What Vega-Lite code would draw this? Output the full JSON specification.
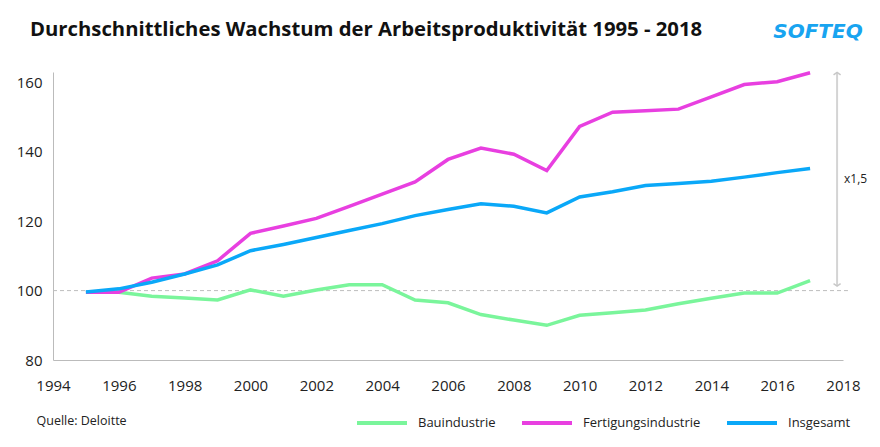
{
  "$schema": "https://vega.github.io/schema/vega-lite/v6.json",
  "width": 790,
  "height": 288,
  "autosize": {"type": "none"},
  "padding": {"left": 53, "top": 72, "right": 37, "bottom": 87},
  "background": "white",
  "config": {"view": {"stroke": null}, "font": "Open Sans"},
  "title": {
    "text": "Durchschnittliches Wachstum der Arbeitsproduktivität 1995 - 2018",
    "anchor": "start",
    "frame": "group",
    "dx": -23,
    "offset": -34,
    "baseline": "alphabetic",
    "fontSize": 20.3,
    "fontWeight": "bold",
    "font": "Open Sans",
    "color": "#111111"
  },
  "encoding": {
    "x": {
      "field": "Jahr",
      "type": "quantitative",
      "scale": {"domain": [1994, 2018], "nice": false, "zero": false},
      "axis": {
        "values": [1994, 1996, 1998, 2000, 2002, 2004, 2006, 2008, 2010, 2012, 2014, 2016, 2018],
        "format": "d",
        "ticks": false,
        "grid": false,
        "domainColor": "#bbbbbb",
        "labelFontSize": 15,
        "labelColor": "#222222",
        "labelPadding": 18,
        "labelFlush": false,
        "title": "Quelle: Deloitte",
        "titleAnchor": "start",
        "titleAlign": "left",
        "titleBaseline": "middle",
        "titleX": -17,
        "titleY": 60,
        "titleFontSize": 12.5,
        "titleFontWeight": "normal",
        "titleColor": "#222222"
      }
    },
    "y": {
      "field": "Wert",
      "type": "quantitative",
      "scale": {"domain": [80, 163], "nice": false, "zero": false},
      "axis": {
        "values": [80, 100, 120, 140, 160],
        "ticks": false,
        "grid": false,
        "domainColor": "#bbbbbb",
        "labelFontSize": 15,
        "labelColor": "#222222",
        "labelPadding": 11,
        "title": null
      }
    }
  },
  "layer": [
    {
      "data": {"values": [{"Jahr": 1994, "Jahr2": 2018.15, "Wert": 100}]},
      "mark": {"type": "rule", "strokeDash": [4, 3], "color": "#bdbdbd", "strokeWidth": 1},
      "encoding": {"x2": {"field": "Jahr2"}}
    },
    {
      "data": {
        "values": [
          {"Jahr": 1995, "Sektor": "Bauindustrie", "Wert": 99.5},
          {"Jahr": 1996, "Sektor": "Bauindustrie", "Wert": 99.5},
          {"Jahr": 1997, "Sektor": "Bauindustrie", "Wert": 98.4},
          {"Jahr": 1998, "Sektor": "Bauindustrie", "Wert": 97.9},
          {"Jahr": 1999, "Sektor": "Bauindustrie", "Wert": 97.3},
          {"Jahr": 2000, "Sektor": "Bauindustrie", "Wert": 100.2},
          {"Jahr": 2001, "Sektor": "Bauindustrie", "Wert": 98.4},
          {"Jahr": 2002, "Sektor": "Bauindustrie", "Wert": 100.2},
          {"Jahr": 2003, "Sektor": "Bauindustrie", "Wert": 101.7},
          {"Jahr": 2004, "Sektor": "Bauindustrie", "Wert": 101.7},
          {"Jahr": 2005, "Sektor": "Bauindustrie", "Wert": 97.3},
          {"Jahr": 2006, "Sektor": "Bauindustrie", "Wert": 96.5},
          {"Jahr": 2007, "Sektor": "Bauindustrie", "Wert": 93.1},
          {"Jahr": 2008, "Sektor": "Bauindustrie", "Wert": 91.5},
          {"Jahr": 2009, "Sektor": "Bauindustrie", "Wert": 90.0},
          {"Jahr": 2010, "Sektor": "Bauindustrie", "Wert": 92.9},
          {"Jahr": 2011, "Sektor": "Bauindustrie", "Wert": 93.6},
          {"Jahr": 2012, "Sektor": "Bauindustrie", "Wert": 94.4},
          {"Jahr": 2013, "Sektor": "Bauindustrie", "Wert": 96.2},
          {"Jahr": 2014, "Sektor": "Bauindustrie", "Wert": 97.8},
          {"Jahr": 2015, "Sektor": "Bauindustrie", "Wert": 99.3},
          {"Jahr": 2016, "Sektor": "Bauindustrie", "Wert": 99.3},
          {"Jahr": 2017, "Sektor": "Bauindustrie", "Wert": 102.9},
          {"Jahr": 1995, "Sektor": "Fertigungsindustrie", "Wert": 99.5},
          {"Jahr": 1996, "Sektor": "Fertigungsindustrie", "Wert": 99.5},
          {"Jahr": 1997, "Sektor": "Fertigungsindustrie", "Wert": 103.6},
          {"Jahr": 1998, "Sektor": "Fertigungsindustrie", "Wert": 104.8},
          {"Jahr": 1999, "Sektor": "Fertigungsindustrie", "Wert": 108.6},
          {"Jahr": 2000, "Sektor": "Fertigungsindustrie", "Wert": 116.5},
          {"Jahr": 2001, "Sektor": "Fertigungsindustrie", "Wert": 118.6},
          {"Jahr": 2002, "Sektor": "Fertigungsindustrie", "Wert": 120.8},
          {"Jahr": 2003, "Sektor": "Fertigungsindustrie", "Wert": 124.3},
          {"Jahr": 2004, "Sektor": "Fertigungsindustrie", "Wert": 127.8},
          {"Jahr": 2005, "Sektor": "Fertigungsindustrie", "Wert": 131.3},
          {"Jahr": 2006, "Sektor": "Fertigungsindustrie", "Wert": 137.8},
          {"Jahr": 2007, "Sektor": "Fertigungsindustrie", "Wert": 141.1},
          {"Jahr": 2008, "Sektor": "Fertigungsindustrie", "Wert": 139.3},
          {"Jahr": 2009, "Sektor": "Fertigungsindustrie", "Wert": 134.6},
          {"Jahr": 2010, "Sektor": "Fertigungsindustrie", "Wert": 147.3},
          {"Jahr": 2011, "Sektor": "Fertigungsindustrie", "Wert": 151.4},
          {"Jahr": 2012, "Sektor": "Fertigungsindustrie", "Wert": 151.8},
          {"Jahr": 2013, "Sektor": "Fertigungsindustrie", "Wert": 152.3},
          {"Jahr": 2014, "Sektor": "Fertigungsindustrie", "Wert": 155.8},
          {"Jahr": 2015, "Sektor": "Fertigungsindustrie", "Wert": 159.4},
          {"Jahr": 2016, "Sektor": "Fertigungsindustrie", "Wert": 160.2},
          {"Jahr": 2017, "Sektor": "Fertigungsindustrie", "Wert": 162.8},
          {"Jahr": 1995, "Sektor": "Insgesamt", "Wert": 99.6},
          {"Jahr": 1996, "Sektor": "Insgesamt", "Wert": 100.5},
          {"Jahr": 1997, "Sektor": "Insgesamt", "Wert": 102.4},
          {"Jahr": 1998, "Sektor": "Insgesamt", "Wert": 104.8},
          {"Jahr": 1999, "Sektor": "Insgesamt", "Wert": 107.4},
          {"Jahr": 2000, "Sektor": "Insgesamt", "Wert": 111.5},
          {"Jahr": 2001, "Sektor": "Insgesamt", "Wert": 113.3},
          {"Jahr": 2002, "Sektor": "Insgesamt", "Wert": 115.3},
          {"Jahr": 2003, "Sektor": "Insgesamt", "Wert": 117.3},
          {"Jahr": 2004, "Sektor": "Insgesamt", "Wert": 119.3},
          {"Jahr": 2005, "Sektor": "Insgesamt", "Wert": 121.6},
          {"Jahr": 2006, "Sektor": "Insgesamt", "Wert": 123.4},
          {"Jahr": 2007, "Sektor": "Insgesamt", "Wert": 125.0},
          {"Jahr": 2008, "Sektor": "Insgesamt", "Wert": 124.3},
          {"Jahr": 2009, "Sektor": "Insgesamt", "Wert": 122.4},
          {"Jahr": 2010, "Sektor": "Insgesamt", "Wert": 127.0},
          {"Jahr": 2011, "Sektor": "Insgesamt", "Wert": 128.5},
          {"Jahr": 2012, "Sektor": "Insgesamt", "Wert": 130.3},
          {"Jahr": 2013, "Sektor": "Insgesamt", "Wert": 130.9},
          {"Jahr": 2014, "Sektor": "Insgesamt", "Wert": 131.5},
          {"Jahr": 2015, "Sektor": "Insgesamt", "Wert": 132.7},
          {"Jahr": 2016, "Sektor": "Insgesamt", "Wert": 134.0},
          {"Jahr": 2017, "Sektor": "Insgesamt", "Wert": 135.2}
        ]
      },
      "mark": {"type": "line", "strokeWidth": 3.5, "strokeJoin": "miter", "strokeCap": "butt"},
      "encoding": {
        "color": {
          "field": "Sektor",
          "type": "nominal",
          "scale": {
            "domain": ["Bauindustrie", "Fertigungsindustrie", "Insgesamt"],
            "range": ["#7af59b", "#e83fe0", "#0aa8f8"]
          },
          "legend": {
            "orient": "none",
            "legendX": 302,
            "legendY": 324,
            "direction": "horizontal",
            "title": null,
            "symbolType": "stroke",
            "symbolSize": 2500,
            "symbolStrokeWidth": 4,
            "labelFontSize": 13,
            "labelFont": "Open Sans",
            "labelColor": "#222222",
            "labelOffset": 9,
            "columnPadding": 18
          }
        }
      }
    },
    {
      "data": {"values": [{"Jahr": 2017.82, "Wert": 101.3, "Wert2": 162.9}]},
      "mark": {"type": "rule", "color": "#d4d4d4", "strokeWidth": 2},
      "encoding": {"y2": {"field": "Wert2"}}
    },
    {
      "data": {"values": [{"Jahr": 2017.82, "Wert": 162.9}]},
      "mark": {"type": "point", "shape": "M-1,0.7L0,0L1,0.7", "size": 50, "filled": false, "stroke": "#c8c8c8", "strokeWidth": 1.5, "opacity": 1}
    },
    {
      "data": {"values": [{"Jahr": 2017.82, "Wert": 101.3}]},
      "mark": {"type": "point", "shape": "M-1,-0.7L0,0L1,-0.7", "size": 50, "filled": false, "stroke": "#c8c8c8", "strokeWidth": 1.5, "opacity": 1}
    },
    {
      "data": {"values": [{"Jahr": 2018.03, "Wert": 132.1, "Text": "x1,5"}]},
      "mark": {"type": "text", "align": "left", "baseline": "middle", "fontSize": 12, "color": "#222222"},
      "encoding": {"text": {"field": "Text"}}
    },
    {
      "data": {"values": [{"Jahr": 2017.24, "Wert": 174.5, "Text": "SOFTEQ"}]},
      "mark": {"type": "text", "align": "center", "baseline": "middle", "font": "DejaVu Sans", "fontSize": 20, "fontStyle": "italic", "fontWeight": "bold", "color": "#18a4f0"},
      "encoding": {"text": {"field": "Text"}}
    }
  ]
}
